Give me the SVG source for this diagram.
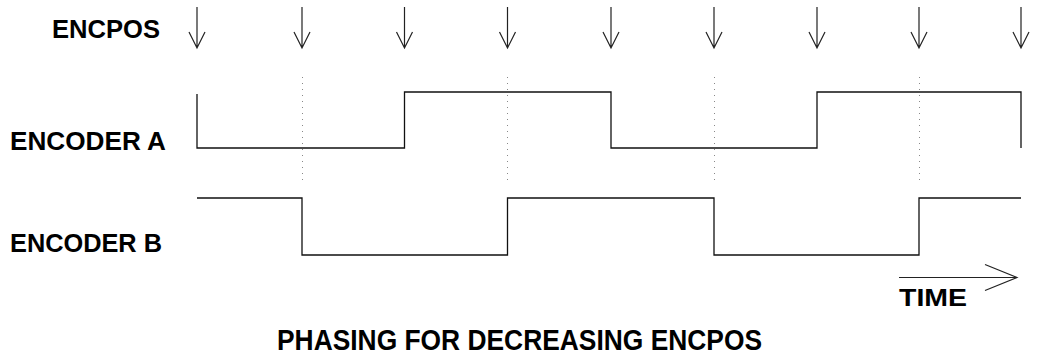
<svg xmlns="http://www.w3.org/2000/svg" width="1039" height="354" viewBox="0 0 1039 354">
<style>
.lbl{font-family:"Liberation Sans",Arial,sans-serif;font-weight:bold;fill:#000}
.sig{fill:none;stroke:#111;stroke-width:1.3}
.arr{fill:none;stroke:#222;stroke-width:1.2}
.dot{fill:none;stroke:#888;stroke-width:1;stroke-dasharray:1 5}
</style>
<rect width="1039" height="354" fill="#fff"/>
<g id="labels">
<text class="lbl" x="52" y="37.5" font-size="25" textLength="108" lengthAdjust="spacingAndGlyphs">ENCPOS</text>
<text class="lbl" x="10" y="150" font-size="25" textLength="156" lengthAdjust="spacingAndGlyphs">ENCODER A</text>
<text class="lbl" x="10" y="252" font-size="25" textLength="152" lengthAdjust="spacingAndGlyphs">ENCODER B</text>
<text class="lbl" x="899" y="306" font-size="23" textLength="68" lengthAdjust="spacingAndGlyphs">TIME</text>
<text class="lbl" x="277" y="349.5" font-size="29" textLength="485" lengthAdjust="spacingAndGlyphs">PHASING FOR DECREASING ENCPOS</text>
</g>
<g id="encpos-arrows" class="arr">
<path d="M197 7V48M189 32L197 48L205 32"/>
<path d="M302 7V48M294 32L302 48L310 32"/>
<path d="M404.5 7V48M396.5 32L404.5 48L412.5 32"/>
<path d="M507.5 7V48M499.5 32L507.5 48L515.5 32"/>
<path d="M611 7V48M603 32L611 48L619 32"/>
<path d="M714 7V48M706 32L714 48L722 32"/>
<path d="M817 7V48M809 32L817 48L825 32"/>
<path d="M919 7V48M911 32L919 48L927 32"/>
<path d="M1021 7V48M1013 32L1021 48L1029 32"/>
</g>
<g id="guides" class="dot">
<path d="M302.5 77V185M507.5 77V185M714.5 77V185M919.5 77V185"/>
</g>
<g id="encoder-a">
<path class="sig" d="M197 94V148H404.5V92H611V148H817V92H1021V148"/>
</g>
<g id="encoder-b">
<path class="sig" d="M197 198H302V255H507.5V198H714V255H919V198H1021"/>
</g>
<g id="time-arrow" class="arr">
<path d="M899 277.5H1017M985 264.5L1017 277.5L985 290.5"/>
</g>
</svg>
